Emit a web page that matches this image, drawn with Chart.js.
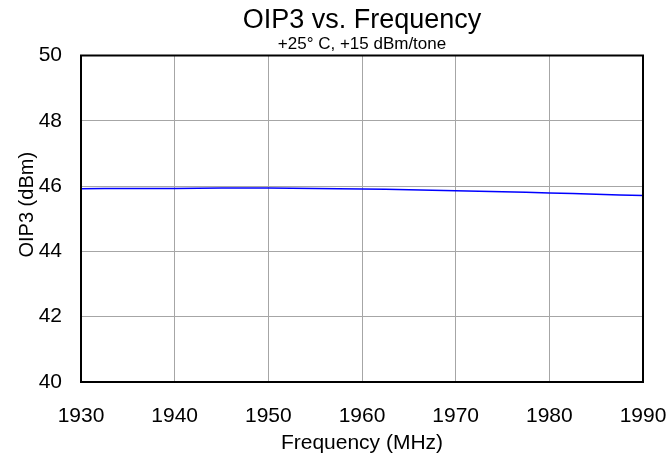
<!DOCTYPE html>
<html>
<head>
<meta charset="utf-8">
<script src="https://cdn.jsdelivr.net/npm/chart.js@4.4.0/dist/chart.umd.min.js"></script>
<style>
html,body{margin:0;padding:0;background:#fff;}
#wrap{width:669px;height:458px;position:relative;}
</style>
</head>
<body>
<div id="wrap"><canvas id="c" width="669" height="458"></canvas></div>
<script>
const frequencies = [1930, 1935, 1940, 1945, 1950, 1955, 1960, 1965, 1970, 1975, 1980, 1985, 1990];
const oip3Values = [45.92, 45.93, 45.93, 45.94, 45.94, 45.93, 45.91, 45.89, 45.86, 45.83, 45.79, 45.75, 45.71];
const xTicks = [1930, 1940, 1950, 1960, 1970, 1980, 1990];
const yTicks = [40, 42, 44, 46, 48, 50];
const yAxisTitle = 'OIP3 (dBm)';

const FONT = '"Liberation Sans", Arial, sans-serif';

const borderPlugin = {
  id: 'plotBorder',
  afterDatasetsDraw(chart) {
    const a = chart.chartArea, ctx = chart.ctx;
    ctx.save();
    ctx.strokeStyle = '#000';
    ctx.lineWidth = 2;
    ctx.strokeRect(a.left, a.top, a.right - a.left, a.bottom - a.top);
    ctx.restore();
  }
};

const yTitlePlugin = {
  id: 'yTitle',
  afterDraw(chart) {
    const a = chart.chartArea, ctx = chart.ctx;
    ctx.save();
    ctx.translate(27, (a.top + a.bottom) / 2 - 14);
    ctx.rotate(-Math.PI / 2);
    ctx.fillStyle = '#000';
    ctx.font = '20px ' + FONT;
    ctx.textAlign = 'center';
    ctx.textBaseline = 'middle';
    ctx.fillText(yAxisTitle, 0, 0);
    ctx.restore();
  }
};

new Chart(document.getElementById('c'), {
  type: 'scatter',
  data: {
    datasets: [{
      data: frequencies.map((f, i) => ({x: f, y: oip3Values[i]})),
      showLine: true,
      borderColor: '#0000ff',
      borderWidth: 1.5,
      pointRadius: 0,
      tension: 0.3,
      fill: false
    }]
  },
  options: {
    responsive: false,
    animation: false,
    layout: {padding: {left: 0, right: 26, top: 0, bottom: 0}},
    plugins: {
      legend: {display: false},
      tooltip: {enabled: false},
      title: {
        display: true,
        text: 'OIP3 vs. Frequency',
        fullSize: false,
        color: '#000',
        font: {family: FONT, size: 27, weight: 'normal', lineHeight: 1.0},
        padding: {top: 7.5, bottom: 1}
      },
      subtitle: {
        display: true,
        text: '+25° C, +15 dBm/tone',
        fullSize: false,
        color: '#000',
        font: {family: FONT, size: 17, weight: 'normal', lineHeight: 1.0},
        padding: {top: 0, bottom: 3}
      }
    },
    scales: {
      x: {
        type: 'linear',
        min: 1930, max: 1990,
        afterBuildTicks(scale) { scale.ticks = xTicks.map(v => ({value: v})); },
        afterFit(scale) { scale.height = 76; scale.paddingLeft = 0; scale.paddingRight = 0; },
        grid: {color: '#a6a6a6', lineWidth: 1, drawTicks: false},
        border: {display: true, color: '#000', width: 2},
        ticks: {color: '#000', font: {family: FONT, size: 21, lineHeight: 1.2}, padding: 21.4, maxRotation: 0,
                callback: v => String(v)},
        title: {display: true, text: 'Frequency (MHz)', color: '#000', font: {family: FONT, size: 21, lineHeight: 1.2}, padding: {top: 0, bottom: 2.4}}
      },
      y: {
        type: 'linear',
        min: 40, max: 50,
        afterBuildTicks(scale) { scale.ticks = yTicks.map(v => ({value: v})); },
        afterFit(scale) { scale.width = 81; scale.paddingTop = 0; scale.paddingBottom = 0; },
        grid: {color: '#a6a6a6', lineWidth: 1, drawTicks: false},
        border: {display: true, color: '#000', width: 2},
        ticks: {color: '#000', font: {family: FONT, size: 21, lineHeight: 1.2}, padding: 19,
                callback: v => String(v)},
        title: {display: false}
      }
    }
  },
  plugins: [borderPlugin, yTitlePlugin]
});
</script>
</body>
</html>
